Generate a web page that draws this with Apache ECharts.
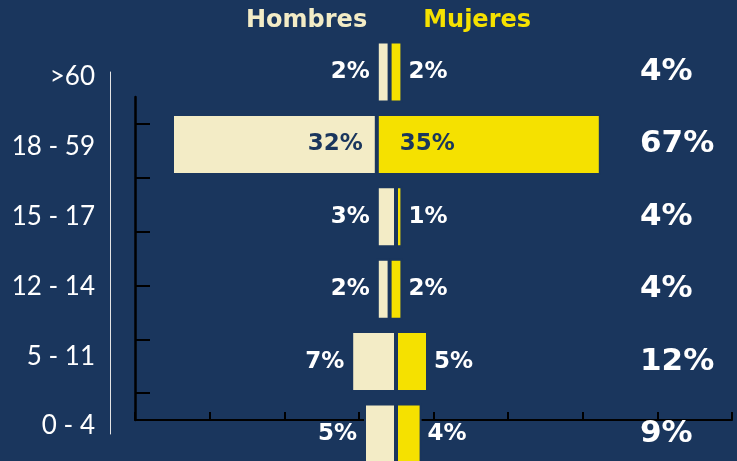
<!DOCTYPE html>
<html>
<head>
<meta charset="utf-8">
<script src="https://cdn.jsdelivr.net/npm/echarts@6/dist/echarts.min.js"></script>
<style>
  html, body { margin: 0; padding: 0; background: #1a365d; }
  #chart { width: 737px; height: 461px; }
</style>
</head>
<body>
<div id="chart"></div>
<script>
// grupos de edad, de arriba a abajo
var categories = ['>60', '18 - 59', '15 - 17', '12 - 14', '5 - 11', '0 - 4'];
// porcentajes por sexo
var hombres = [2, 32, 3, 2, 7, 5];
var mujeres = [2, 35, 1, 2, 5, 4];
// desplazamiento (barra invisible) antes de la barra de hombres
var spacer = [32, 0, 32, 32, 28, 30];
// totales de la columna derecha
var totals = [4, 67, 4, 4, 12, 9];

var bg = '#1a365d';
var cream = '#f3ecc6';
var yellow = '#f5e100';
var valueFont = 'DejaVu Sans';

// barras anchas llevan la etiqueta dentro
var hData = hombres.map(function (v) {
  if (v > 10) {
    return { value: v, label: { position: 'insideRight', distance: 14, color: bg } };
  }
  return v;
});
var mData = mujeres.map(function (v) {
  if (v > 10) {
    return { value: v, label: { position: 'insideLeft', distance: 23, color: bg } };
  }
  return v;
});

var chart = echarts.init(document.getElementById('chart'));

var option = {
  backgroundColor: bg,
  animation: false,
  legend: {
    left: 235,
    top: 4,
    itemWidth: 0,
    itemHeight: 0,
    itemGap: 50,
    textStyle: { fontFamily: valueFont, fontWeight: 'bold', fontSize: 24 },
    data: [
      { name: 'Hombres', textStyle: { color: cream } },
      { name: 'Mujeres', textStyle: { color: yellow } }
    ]
  },
  grid: [
    // barras
    { left: 172, right: 117, top: 72, bottom: 27 },
    // ejes negros
    { left: 135, right: 5, top: 97, bottom: 41 },
    // etiquetas de edad
    { left: 110, right: 117, top: 77, bottom: 35 }
  ],
  xAxis: [
    { gridIndex: 0, type: 'value', min: 0, max: 70, show: false },
    {
      gridIndex: 1, type: 'value', min: 0, max: 8, interval: 1,
      axisLine: { show: true, lineStyle: { color: '#000', width: 2 } },
      axisTick: { show: true, inside: true, length: 8, lineStyle: { color: '#000', width: 2 } },
      axisLabel: { show: false },
      splitLine: { show: false }
    },
    { gridIndex: 2, type: 'value', min: 0, max: 70, show: false }
  ],
  yAxis: [
    {
      gridIndex: 0, type: 'category', inverse: true, boundaryGap: false,
      data: categories, offset: 62,
      axisLine: { show: true, onZero: false, lineStyle: { color: '#e4e4e4', width: 1 } },
      axisTick: { show: false },
      axisLabel: { show: false }
    },
    {
      gridIndex: 0, type: 'category', inverse: true, boundaryGap: false,
      position: 'right', data: totals,
      axisLine: { show: false, onZero: false },
      axisTick: { show: false },
      axisLabel: {
        margin: 20, align: 'left', color: '#fff',
        fontFamily: valueFont, fontWeight: 'bold', fontSize: 31,
        formatter: '{value}%'
      }
    },
    {
      gridIndex: 1, type: 'category', inverse: true, data: categories,
      axisLine: { show: true, onZero: false, lineStyle: { color: '#000', width: 2.5 } },
      axisTick: { show: true, inside: true, alignWithLabel: true, length: 15, lineStyle: { color: '#000', width: 2 } },
      axisLabel: { show: false }
    },
    {
      gridIndex: 2, type: 'category', inverse: true, boundaryGap: false,
      data: categories,
      axisLine: { show: false, onZero: false },
      axisTick: { show: false },
      axisLabel: { margin: 15, color: '#fff', fontFamily: 'Lato', fontSize: 26 }
    }
  ],
  series: [
    {
      name: 'base',
      type: 'bar',
      stack: 'total',
      barWidth: 61,
      clip: false,
      silent: true,
      itemStyle: { color: 'transparent', borderWidth: 0 },
      data: spacer
    },
    {
      name: 'Hombres',
      type: 'bar',
      stack: 'total',
      barWidth: 61,
      clip: false,
      itemStyle: { color: cream, borderColor: bg, borderWidth: 2 },
      label: {
        show: true, position: 'left', distance: 7, color: '#fff',
        fontFamily: valueFont, fontWeight: 'bold', fontSize: 23,
        formatter: '{c}%'
      },
      data: hData
    },
    {
      name: 'Mujeres',
      type: 'bar',
      stack: 'total',
      barWidth: 61,
      clip: false,
      itemStyle: { color: yellow, borderColor: bg, borderWidth: 2 },
      label: {
        show: true, position: 'right', distance: 6, color: '#fff',
        fontFamily: valueFont, fontWeight: 'bold', fontSize: 23,
        formatter: '{c}%'
      },
      data: mData
    }
  ]
};

chart.setOption(option);
</script>
</body>
</html>
